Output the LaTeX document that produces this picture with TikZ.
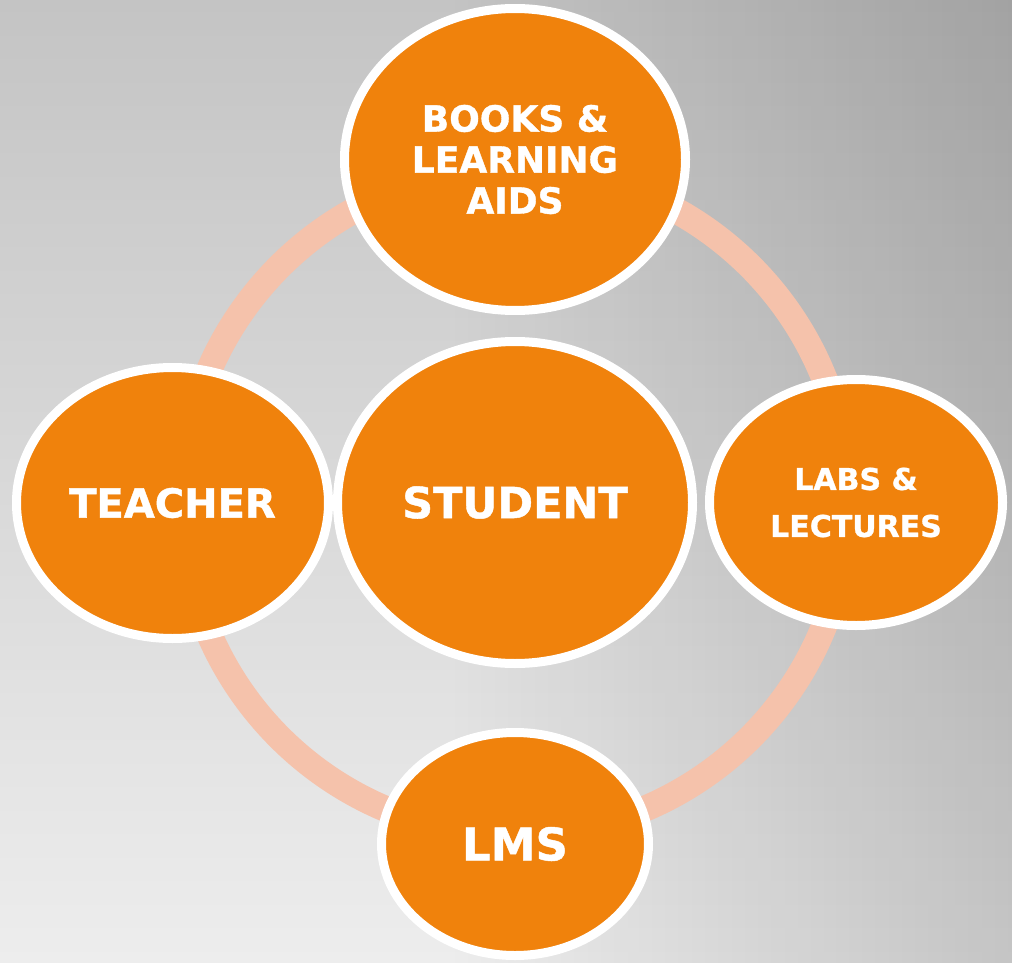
\documentclass[tikz,border=0pt]{standalone}
\usepackage{fontspec}
\setmainfont{DejaVu Sans}
\newfontfamily\labelfont{DejaVu Sans Bold}[FakeBold=1]
\usetikzlibrary{shapes.geometric,fadings}
\definecolor{bubblefill}{HTML}{F0820C}
\definecolor{ringcol}{HTML}{F5C2AB}
\definecolor{bgtop}{HTML}{C4C4C4}
\definecolor{bgbottom}{HTML}{EDEDED}
\tikzfading[name=darkright, left color=transparent!100, right color=transparent!0]
\tikzset{
  bubble/.style={ellipse, fill=bubblefill, draw=white, line width=9pt,
    text=white, align=center, inner sep=0pt},
  ringline/.style={draw=ringcol, line width=26pt}
}
\begin{document}
\begin{tikzpicture}[x=1pt, y=-1pt]
  \useasboundingbox (0,0) rectangle (1012,963);
  % background: light from the bottom, darker towards the right edge
  \shade[top color=bgtop, bottom color=bgbottom] (0,0) rectangle (1012,963);
  \fill[black, opacity=0.17, path fading=darkright] (450,0) rectangle (1012,963);
  % ring linking the outer topics
  \draw[ringline] (515,502) circle[radius=333pt];
  % topics
  \node[bubble, minimum width=341pt, minimum height=302pt,
    font=\labelfont\fontsize{36}{41}\selectfont] (books) at (515,159.5)
    {BOOKS \&\\LEARNING\\AIDS};
  \node[bubble, minimum width=312pt, minimum height=271pt,
    font=\labelfont\fontsize{40}{48}\selectfont] (teacher) at (172.5,503)
    {TEACHER};
  \node[bubble, minimum width=293pt, minimum height=246pt,
    font=\labelfont\fontsize{30}{47}\selectfont] (labs) at (856,502.5)
    {LABS \&\\LECTURES};
  \node[bubble, minimum width=267pt, minimum height=223pt,
    font=\labelfont\fontsize{45}{54}\selectfont] (lms) at (515,844)
    {\raisebox{-3pt}{LMS}};
  \node[bubble, minimum width=355pt, minimum height=322pt,
    font=\labelfont\fontsize{43}{52}\selectfont] (student) at (515,502.5)
    {STUDENT};
\end{tikzpicture}
\end{document}
